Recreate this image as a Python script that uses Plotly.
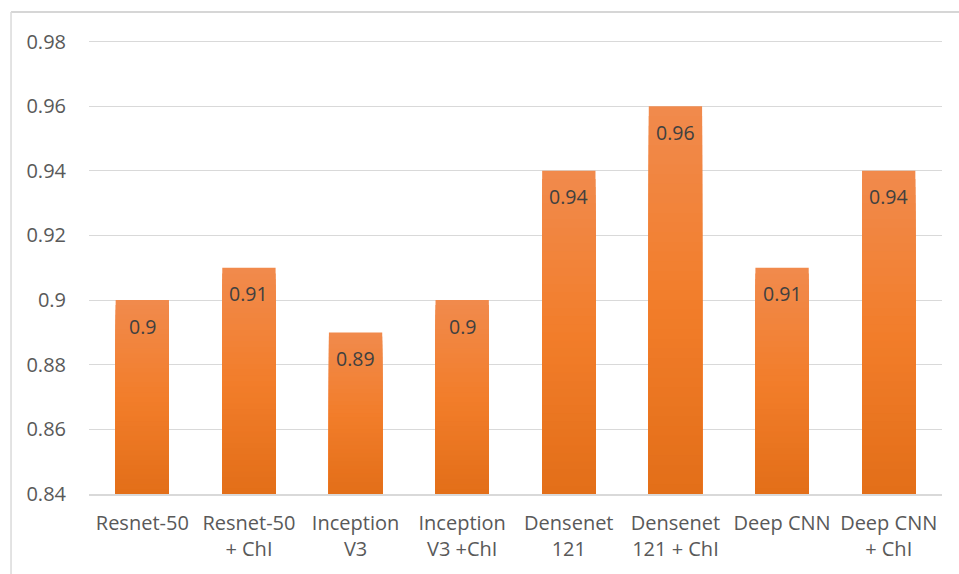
import plotly.graph_objects as go

# Model accuracy comparison
models = ["Resnet-50", "Resnet-50<br>+ ChI", "Inception<br>V3", "Inception<br>V3 +ChI",
          "Densenet<br>121", "Densenet<br>121 + ChI", "Deep CNN", "Deep CNN<br>+ ChI"]
accuracy = [0.90, 0.91, 0.89, 0.90, 0.94, 0.96, 0.91, 0.94]
value_labels = ["0.9", "0.91", "0.89", "0.9", "0.94", "0.96", "0.91", "0.94"]
y_ticks = [0.84, 0.86, 0.88, 0.90, 0.92, 0.94, 0.96, 0.98]
y_tick_text = ["0.84", "0.86", "0.88", "0.9", "0.92", "0.94", "0.96", "0.98"]

AXIS_MIN = 0.84
FONT = "'Open Sans', Lato, sans-serif"

# vertical gradient stops (top -> bottom) for the bar fill
stops = [(0.0, (241, 138, 76)), (0.5, (242, 125, 42)), (1.0, (226, 110, 24))]


def grad_color(t):
    for (t0, c0), (t1, c1) in zip(stops[:-1], stops[1:]):
        if t0 <= t <= t1:
            f = (t - t0) / (t1 - t0) if t1 > t0 else 0
            r, g, b = (round(a + (bb - a) * f) for a, bb in zip(c0, c1))
            return f"rgb({r},{g},{b})"
    return "rgb(226,110,24)"


fig = go.Figure()

# overlaid bars, each shorter and darker than the last, build the gradient
N = 40
for k in range(N):
    frac = k / N
    tops = [v - (v - AXIS_MIN) * frac for v in accuracy]
    fig.add_trace(go.Bar(
        x=models,
        y=[t - AXIS_MIN for t in tops],
        base=[AXIS_MIN] * len(models),
        width=0.5,
        marker=dict(color=grad_color(frac), line=dict(width=0)),
        hoverinfo="skip",
        showlegend=False,
    ))

# value labels inside the top of each bar
for m, v, lab in zip(models, accuracy, value_labels):
    fig.add_annotation(x=m, y=v, text=lab, showarrow=False, yanchor="middle",
                       yshift=-26, font=dict(family=FONT, size=19.5, color="#404040"))

# outer chart frame (top and left edges)
frame = "#C8C8C8"
fig.add_shape(type="line", xref="paper", yref="paper", x0=-0.0914, x1=1.05,
              y0=1.0617, y1=1.0617, line=dict(color=frame, width=1.5))
fig.add_shape(type="line", xref="paper", yref="paper", x0=-0.0914, x1=-0.0914,
              y0=1.0617, y1=-0.2, line=dict(color="#DADADA", width=1.5))

fig.update_layout(
    barmode="overlay",
    bargap=0.5,
    width=959, height=574,
    margin=dict(l=89, r=17, t=40, b=80),
    paper_bgcolor="white", plot_bgcolor="white",
    font=dict(family=FONT, size=20, color="#595959"),
    xaxis=dict(showgrid=False, showline=True, linecolor="#D9D9D9", linewidth=1.5,
               ticks="", ticklabelstandoff=10,
               tickfont=dict(size=20, color="#595959"), fixedrange=True),
    yaxis=dict(range=[AXIS_MIN, 0.9805], tickvals=y_ticks, ticktext=y_tick_text,
               showgrid=True, gridcolor="#D9D9D9", gridwidth=1, zeroline=False,
               showline=False, ticks="", ticklabelstandoff=22,
               tickfont=dict(size=20, color="#595959"), fixedrange=True),
)

fig.write_html("out.html")
